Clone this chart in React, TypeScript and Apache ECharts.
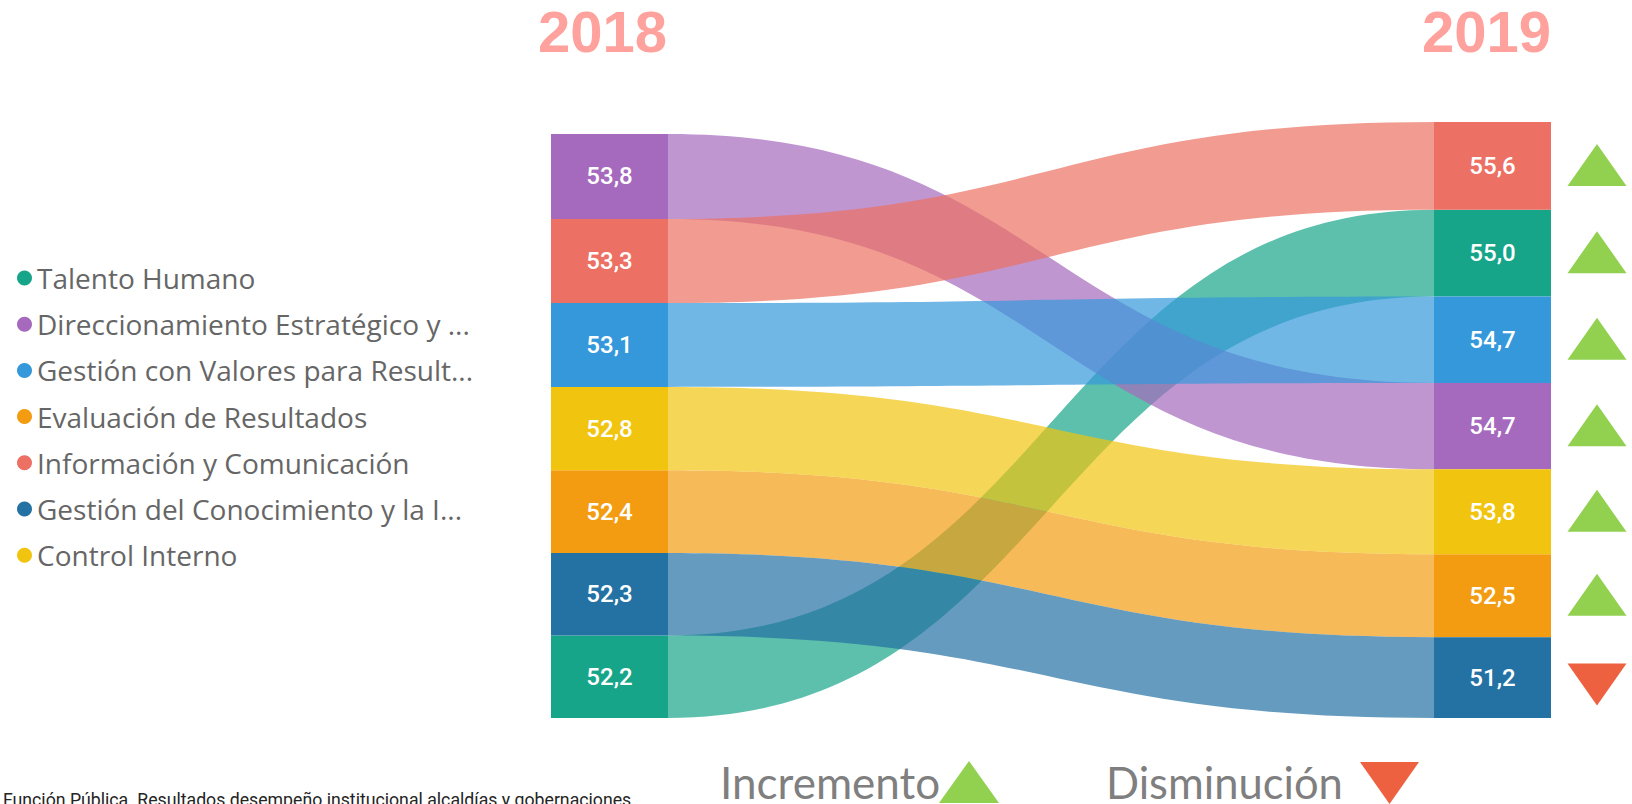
import React, { useEffect, useRef } from "react";
import * as echarts from "echarts";

// ---- data ----
const categories = [
  "Talento Humano",
  "Direccionamiento Estratégico y ...",
  "Gestión con Valores para Result...",
  "Evaluación de Resultados",
  "Información y Comunicación",
  "Gestión del Conocimiento y la I...",
  "Control Interno",
];
const values2018 = [52.2, 53.8, 53.1, 52.4, 53.3, 52.3, 52.8];
const values2019 = [55.0, 54.7, 54.7, 52.5, 55.6, 51.2, 53.8];
// stacking order, top to bottom (indices into categories)
const order2018 = [1, 4, 2, 6, 3, 5, 0];
const order2019 = [4, 0, 2, 1, 6, 3, 5];
const years = ["2018", "2019"];
const trendLabels = ["Incremento", "Disminución"];
const sourceNote =
  "Función Pública. Resultados desempeño institucional alcaldías y gobernaciones";

// ---- styles ----
const colors = ["#17A589", "#A569BD", "#3498DB", "#F39C12", "#EC7063", "#2471A3", "#F1C40F"];
const UP_COLOR = "#92D050";
const DOWN_COLOR = "#EE6140";
const BOX_W = 117;
const CURVATURE = 0.5;

function stackRanges(values: number[], order: number[]) {
  const ranges: number[][] = new Array(values.length);
  let acc = 0;
  for (let k = order.length - 1; k >= 0; k--) {
    const i = order[k];
    ranges[i] = [acc, acc + values[i]];
    acc += values[i];
  }
  return ranges;
}

const fmt = (v: number) => v.toFixed(1).replace(".", ",");

export default function App() {
  const ref = useRef<HTMLDivElement>(null);

  useEffect(() => {
    if (!ref.current) return;
    const chart = echarts.init(ref.current, undefined, { renderer: "svg" });
    const left = stackRanges(values2018, order2018);
    const right = stackRanges(values2019, order2019);
    const sum = (a: number[]) => a.reduce((s, v) => s + v, 0);
    const yMax = Math.max(sum(values2018), sum(values2019));

    const series = categories.map((name, i) => ({
      type: "custom",
      name,
      itemStyle: { color: colors[i] },
      data: [[0, 0]],
      z: 2,
      renderItem: (params: any, api: any) => {
        const [l0, l1] = left[i];
        const [r0, r1] = right[i];
        const pLT = api.coord([0, l1]);
        const pLB = api.coord([0, l0]);
        const pRT = api.coord([1, r1]);
        const pRB = api.coord([1, r0]);
        const xL = pLT[0];
        const xR = pRT[0];
        const x1 = xL + BOX_W;
        const x2 = xR - BOX_W;
        const c1 = x1 + (x2 - x1) * CURVATURE;
        const c2 = x2 - (x2 - x1) * CURVATURE;
        const d =
          `M${x1},${pLT[1]} C${c1},${pLT[1]} ${c2},${pRT[1]} ${x2},${pRT[1]} ` +
          `L${x2},${pRB[1]} C${c2},${pRB[1]} ${c1},${pLB[1]} ${x1},${pLB[1]} Z`;
        const up = values2019[i] >= values2018[i];
        const cy = (pRT[1] + pRB[1]) / 2;
        const tx = xR + 46;
        const tri = up
          ? [[tx - 29.5, cy + 20], [tx, cy - 22], [tx + 29.5, cy + 20]]
          : [[tx - 29.5, cy - 14], [tx + 29.5, cy - 14], [tx, cy + 28]];
        const labelStyle = {
          fill: "#ffffff",
          fontFamily: "Roboto",
          fontWeight: 500,
          fontSize: 24,
          align: "center",
          verticalAlign: "middle",
        };
        return {
          type: "group",
          children: [
            {
              type: "path",
              shape: { pathData: d },
              style: { fill: colors[i], opacity: 0.7 },
            },
            {
              type: "rect",
              shape: { x: xL, y: pLT[1], width: BOX_W, height: pLB[1] - pLT[1] },
              style: { fill: colors[i] },
            },
            {
              type: "rect",
              shape: { x: x2, y: pRT[1], width: BOX_W, height: pRB[1] - pRT[1] },
              style: { fill: colors[i] },
            },
            {
              type: "text",
              x: xL + BOX_W / 2,
              y: (pLT[1] + pLB[1]) / 2,
              style: { ...labelStyle, text: fmt(values2018[i]) },
            },
            {
              type: "text",
              x: x2 + BOX_W / 2,
              y: (pRT[1] + pRB[1]) / 2,
              style: { ...labelStyle, text: fmt(values2019[i]) },
            },
            {
              type: "polygon",
              shape: { points: tri },
              style: { fill: up ? UP_COLOR : DOWN_COLOR },
            },
          ],
        };
      },
    }));

    const option: any = {
      animation: false,
      backgroundColor: "#ffffff",
      grid: { left: 551, right: 81, top: 122, bottom: 86 },
      xAxis: { type: "value", min: 0, max: 1, show: false },
      yAxis: { type: "value", min: 0, max: yMax, show: false },
      legend: {
        orient: "vertical",
        left: 17,
        top: 263,
        padding: 0,
        icon: "circle",
        itemWidth: 15,
        itemHeight: 15,
        itemGap: 16.2,
        selectedMode: false,
        data: categories,
        textStyle: {
          fontFamily: "Open Sans",
          fontSize: 28,
          color: "#666666",
          lineHeight: 30,
        },
      },
      graphic: [
        {
          type: "text",
          x: 667,
          y: 31.5,
          style: {
            text: years[0],
            fill: "#FFA19C",
            fontFamily: "Liberation Sans",
            fontWeight: "bold",
            fontSize: 58,
            align: "right",
            verticalAlign: "middle",
          },
        },
        {
          type: "text",
          x: 1551,
          y: 31.5,
          style: {
            text: years[1],
            fill: "#FFA19C",
            fontFamily: "Liberation Sans",
            fontWeight: "bold",
            fontSize: 58,
            align: "right",
            verticalAlign: "middle",
          },
        },
        {
          type: "text",
          x: 720,
          y: 782,
          style: {
            text: trendLabels[0],
            fill: "#7F7F7F",
            fontFamily: "Lato",
            fontSize: 44,
            align: "left",
            verticalAlign: "middle",
          },
        },
        {
          type: "polygon",
          shape: { points: [[939, 803], [969, 761], [999, 803]] },
          style: { fill: UP_COLOR },
        },
        {
          type: "text",
          x: 1106,
          y: 782,
          style: {
            text: trendLabels[1],
            fill: "#7F7F7F",
            fontFamily: "Lato",
            fontSize: 43.5,
            align: "left",
            verticalAlign: "middle",
          },
        },
        {
          type: "polygon",
          shape: { points: [[1360, 762], [1419, 762], [1389.5, 804]] },
          style: { fill: DOWN_COLOR },
        },
        {
          type: "text",
          x: 3,
          y: 800,
          style: {
            text: sourceNote,
            fill: "#252423",
            fontFamily: "Roboto",
            fontSize: 17.7,
            align: "left",
            verticalAlign: "middle",
          },
        },
      ],
      series,
    };
    chart.setOption(option);
    return () => chart.dispose();
  }, []);

  return (
    <div
      ref={ref}
      style={{ position: "fixed", left: 0, top: 0, width: 1632, height: 804, background: "#fff" }}
    />
  );
}
